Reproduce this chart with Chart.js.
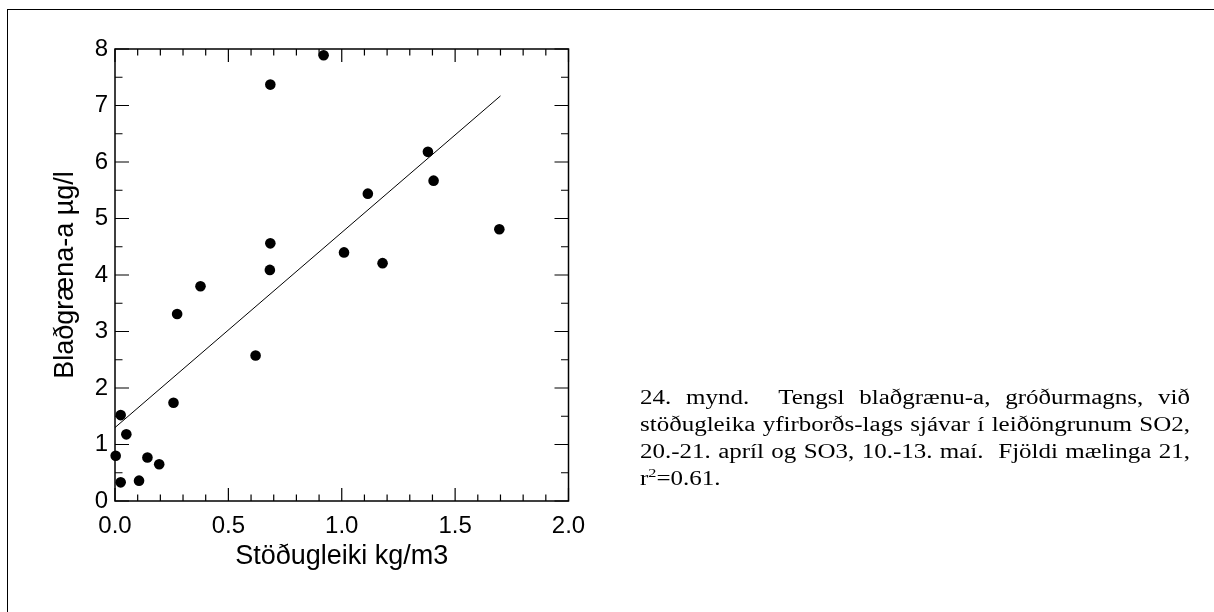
<!DOCTYPE html>
<html>
<head>
<meta charset="utf-8">
<script src="https://cdn.jsdelivr.net/npm/chart.js@4.4.1/dist/chart.umd.min.js"></script>
<style>
html, body { margin: 0; padding: 0; background: #fff; }
#wrap { position: relative; width: 1214px; height: 612px; overflow: hidden; }
#frame { position: absolute; left: 7px; top: 9px; width: 1210px; height: 610px; border-left: 1px solid #000; border-top: 1px solid #000; }
#mycanvas { position: absolute; left: 0; top: 0; }
#caption { position: absolute; left: 640px; top: 384px; width: 440px; transform: scaleX(1.25); transform-origin: left top;
           font-family: 'Liberation Serif', 'Times New Roman', serif; font-size: 20px; line-height: 27px; color: #000; }
#caption .ln { text-align: justify; text-align-last: justify; white-space: nowrap; }
#caption .last { text-align: left; }
#caption .sup { font-size: 13px; position: relative; top: -8px; }
</style>
</head>
<body>
<div id="wrap">
  <div id="frame"></div>
  <canvas id="mycanvas" width="1214" height="612"></canvas>
  <div id="caption">
    <div class="ln">24. mynd.&nbsp; Tengsl blaðgrænu-a, gróðurmagns, við</div>
    <div class="ln">stöðugleika yfirborðs-lags sjávar í leiðöngrunum SO2,</div>
    <div class="ln">20.-21. apríl og SO3, 10.-13. maí.&nbsp; Fjöldi mælinga 21,</div>
    <div class="last">r<span class="sup">2</span>=0.61.</div>
  </div>
</div>
<script>
// stöðugleiki (kg/m3) vs blaðgræna-a (µg/l), 21 mælingar
var stodugleiki = [0.92, 0.685, 1.38, 1.405, 1.115, 1.695, 0.685, 1.01, 1.18, 0.683, 0.377,
                   0.274, 0.62, 0.258, 0.025, 0.05, 0.003, 0.143, 0.195, 0.025, 0.106];
var bladgraena = [7.89, 7.37, 6.18, 5.67, 5.44, 4.81, 4.56, 4.40, 4.21, 4.09, 3.80,
                  3.31, 2.575, 1.74, 1.52, 1.18, 0.80, 0.77, 0.65, 0.33, 0.36];

// regression line end points
var fitX = [0, 1.70];
var fitY = [1.30, 7.17];

var xTickLabels = ['0.0', '0.5', '1.0', '1.5', '2.0'];
var yTickLabels = ['0', '1', '2', '3', '4', '5', '6', '7', '8'];

var xTitle = 'Stöðugleiki kg/m3';
var yTitle = 'Blaðgræna-a µg/l';

var points = [];
for (var i in stodugleiki) {
  points.push({x: stodugleiki[i], y: bladgraena[i]});
}
var fitLine = [];
for (var k in fitX) {
  fitLine.push({x: fitX[k], y: fitY[k]});
}

// box round the plot with inward ticks on all four sides
var frameTicks = {
  id: 'frameTicks',
  afterDatasetsDraw: function(chart) {
    var ctx = chart.ctx;
    var a = chart.chartArea;
    var xs = chart.scales.x;
    var ys = chart.scales.y;
    ctx.save();
    ctx.strokeStyle = '#000';
    ctx.lineWidth = 1.2;
    ctx.beginPath();
    for (var i = 0; i <= 20; i++) {
      var px = xs.getPixelForValue(i * 0.1);
      var len = (i % 5 === 0) ? 13 : 6.5;
      ctx.moveTo(px, a.bottom); ctx.lineTo(px, a.bottom - len);
      ctx.moveTo(px, a.top); ctx.lineTo(px, a.top + len);
    }
    for (var j = 0; j <= 16; j++) {
      var py = ys.getPixelForValue(j * 0.5);
      var len2 = (j % 2 === 0) ? 14 : 7.5;
      ctx.moveTo(a.left, py); ctx.lineTo(a.left + len2, py);
      ctx.moveTo(a.right, py); ctx.lineTo(a.right - len2, py);
    }
    ctx.stroke();
    ctx.lineWidth = 1.5;
    ctx.strokeRect(a.left, a.top, a.right - a.left, a.bottom - a.top);
    ctx.restore();
  }
};

Chart.defaults.font.family = "'Liberation Sans', Arial, sans-serif";
Chart.defaults.color = '#000';

var ctx = document.getElementById('mycanvas');
var chart = new Chart(ctx, {
  type: 'scatter',
  data: {
    datasets: [
      {
        label: 'mælingar',
        data: points,
        backgroundColor: '#000',
        borderColor: '#000',
        pointRadius: 5.3,
        pointBorderWidth: 0,
        clip: false
      },
      {
        label: 'aðhvarfslína',
        data: fitLine,
        showLine: true,
        borderColor: '#000',
        borderWidth: 1,
        pointRadius: 0,
        fill: false
      }
    ]
  },
  options: {
    responsive: false,
    animation: false,
    devicePixelRatio: 1,
    layout: { padding: { left: 0, top: 49, right: 645.5, bottom: 0 } },
    plugins: {
      legend: { display: false },
      tooltip: { enabled: false }
    },
    scales: {
      x: {
        type: 'linear',
        min: 0,
        max: 2,
        grid: { display: false, drawTicks: false },
        border: { display: false },
        ticks: {
          stepSize: 0.5,
          padding: 11,
          font: { size: 24 },
          callback: function(value, index) { return xTickLabels[index]; }
        },
        title: {
          display: true,
          text: xTitle,
          font: { size: 27 },
          padding: { top: 0, bottom: 39 }
        },
        afterFit: function(scale) { scale.height = 111; }
      },
      y: {
        type: 'linear',
        min: 0,
        max: 8,
        grid: { display: false, drawTicks: false },
        border: { display: false },
        ticks: {
          stepSize: 1,
          padding: 7,
          font: { size: 24 },
          callback: function(value, index) { return yTickLabels[index]; }
        },
        title: {
          display: true,
          text: yTitle,
          font: { size: 27 },
          padding: { top: 49, bottom: 0 }
        },
        afterFit: function(scale) { scale.width = 115; }
      }
    }
  },
  plugins: [frameTicks]
});
</script>
</body>
</html>
